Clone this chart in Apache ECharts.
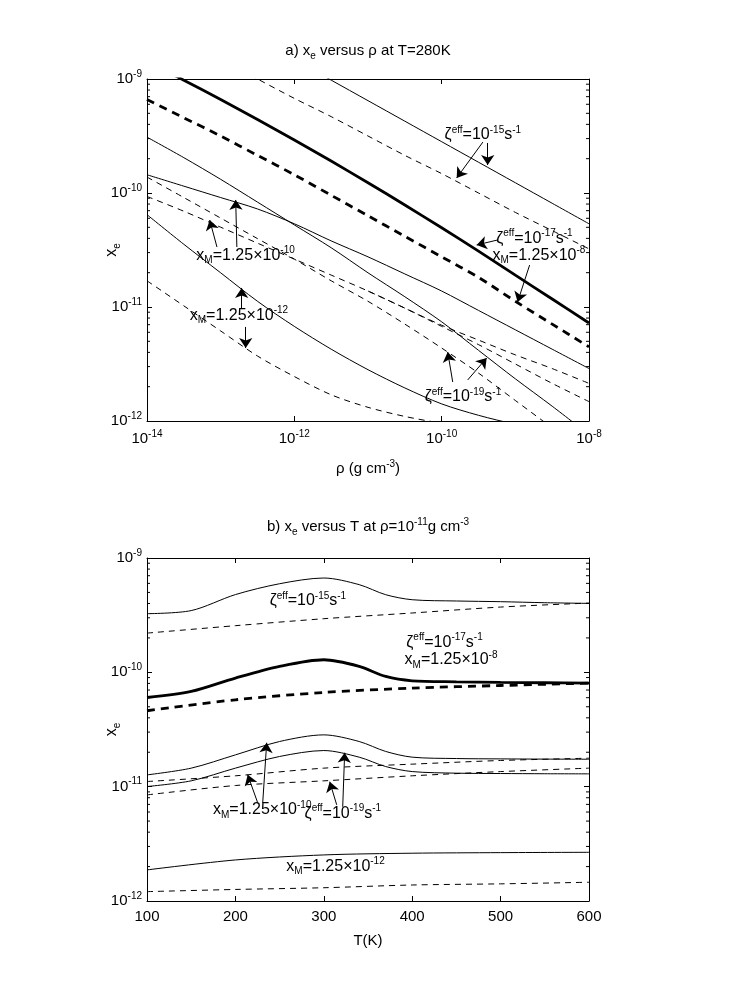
<!DOCTYPE html>
<html>
<head>
<meta charset="utf-8">
<script src="https://cdn.jsdelivr.net/npm/echarts@6/dist/echarts.min.js"></script>
<style>
  html, body { margin: 0; background: #fff; }
  #chart { width: 736px; height: 981px; }
</style>
</head>
<body>
<div id="chart"></div>
<script>
var FONT = '"Liberation Sans", Arial, sans-serif';

// ---- panel a: x_e versus rho at T=280K (log10 values)
var rhoExp = [-14, -13.5, -13, -12.5, -12, -11.5, -11, -10.5, -10, -9.5, -9, -8.5, -8];
var aZeta15Solid  = [null, null, null, null, -8.83, -9.01, -9.19, -9.37, -9.55, -9.73, -9.91, -10.09, -10.27];
var aZeta15Dashed = [null, null, -8.83, -9.0, -9.17, -9.33, -9.50, -9.67, -9.83, -10.0, -10.17, -10.33, -10.49];
var aRefSolid     = [-8.845, -9.01, -9.18, -9.355, -9.535, -9.72, -9.91, -10.105, -10.305, -10.51, -10.72, -10.93, -11.14];
var aRefDashed    = [-9.18, -9.34, -9.50, -9.67, -9.84, -10.02, -10.20, -10.38, -10.56, -10.74, -10.95, -11.15, -11.35];
var aXm10Solid    = [-9.84, -9.94, -10.04, -10.14, -10.27, -10.42, -10.56, -10.71, -10.86, -11.03, -11.20, -11.37, -11.54];
var aXm10Dashed   = [-10.03, -10.16, -10.30, -10.44, -10.58, -10.72, -10.86, -11.01, -11.16, -11.29, -11.42, -11.54, -11.67];
var aSplitDashed  = [null, null, null, null, null, null, -10.86, -11.01, -11.17, -11.33, -11.50, -11.67, -11.83];
var aZeta19Solid  = [-9.51, -9.69, -9.88, -10.08, -10.28, -10.48, -10.70, -10.91, -11.13, -11.38, -11.63, -11.87, -12.12];
var aZeta19Dashed = [-9.86, -10.04, -10.22, -10.40, -10.58, -10.77, -10.95, -11.15, -11.36, -11.58, -11.82, -12.06, -12.3];
var aXm12Solid    = [-10.19, -10.45, -10.70, -10.95, -11.17, -11.37, -11.55, -11.71, -11.85, -11.95, -12.03, -12.1, -12.15];
var aXm12Dashed   = [-10.77, -10.99, -11.21, -11.43, -11.61, -11.77, -11.88, -11.96, -12.02, -12.07, -12.1, -12.12, -12.14];

// ---- panel b: x_e versus T at rho=1e-11 (log10 values)
var tempK      = [100, 150, 200, 250, 300, 340, 370, 400, 450, 500, 550, 600];
var tempCoarse = [100, 200, 300, 400, 500, 600];
var bZeta15Solid  = [-9.487, -9.46, -9.32, -9.225, -9.175, -9.233, -9.321, -9.365, -9.376, -9.382, -9.391, -9.397];
var bRefSolid     = [-10.22, -10.167, -10.05, -9.948, -9.89, -9.948, -10.036, -10.074, -10.083, -10.088, -10.091, -10.094];
var bXm10Solid    = [-10.897, -10.838, -10.722, -10.605, -10.547, -10.605, -10.692, -10.742, -10.754, -10.757, -10.759, -10.76];
var bZeta19Solid  = [-10.999, -10.949, -10.838, -10.736, -10.684, -10.742, -10.824, -10.868, -10.882, -10.885, -10.887, -10.888];
var bZeta15Dashed = [-9.657, -9.592, -9.531, -9.481, -9.429, -9.394];
var bRefDashed    = [-10.336, -10.24, -10.176, -10.138, -10.115, -10.094];
var bXm10Dashed   = [-10.955, -10.905, -10.838, -10.803, -10.771, -10.751];
var bZeta19Dashed = [-11.072, -10.99, -10.949, -10.905, -10.868, -10.838];
var bXm12Solid    = [-11.728, -11.641, -11.597, -11.582, -11.577, -11.574];
var bXm12Dashed   = [-11.918, -11.899, -11.884, -11.86, -11.85, -11.836];

// annotation texts: [x, y, text]   arrows: [x1, y1, x2, y2] (data coords)
var aLabels = [
    [-9.96, -9.49, 'ζ{sup|eff}=10{sup|-15}s{sup|-1}'],
    [-9.26, -10.40, 'ζ{sup|eff}=10{sup|-17}s{sup|-1}'],
    [-9.31, -10.55, 'x{sub|M}=1.25×10{sup|-8}'],
    [-13.33, -10.55, 'x{sub|M}=1.25×10{sup|-10}'],
    [-13.42, -11.075, 'x{sub|M}=1.25×10{sup|-12}'],
    [-10.23, -11.79, 'ζ{sup|eff}=10{sup|-19}s{sup|-1}']
];
var aArrows = [
    [-9.44, -9.553, -9.796, -9.868],
    [-9.375, -9.561, -9.375, -9.754],
    [-9.24, -10.412, -9.525, -10.456],
    [-8.806, -10.632, -8.969, -10.956],
    [-13.05, -10.474, -13.149, -10.237],
    [-12.78, -10.474, -12.796, -10.061],
    [-12.715, -11.009, -12.715, -10.833],
    [-12.66, -11.175, -12.66, -11.36],
    [-9.85, -11.658, -9.918, -11.395],
    [-9.647, -11.64, -9.389, -11.447]
];
var bLabels = [
    [238.8, -9.374, 'ζ{sup|eff}=10{sup|-15}s{sup|-1}'],
    [393.3, -9.737, 'ζ{sup|eff}=10{sup|-17}s{sup|-1}'],
    [391.4, -9.89, 'x{sub|M}=1.25×10{sup|-8}'],
    [174.7, -11.204, 'x{sub|M}=1.25×10{sup|-10}'],
    [278.3, -11.235, 'ζ{sup|eff}=10{sup|-19}s{sup|-1}'],
    [257.6, -11.699, 'x{sub|M}=1.25×10{sup|-12}']
];
var bArrows = [
    [230.9, -11.141, 235.4, -10.616],
    [225.2, -11.141, 213.9, -10.896],
    [321.4, -11.176, 323.6, -10.703],
    [314.6, -11.159, 306.7, -10.957]
];

var rich = {
    sup: { fontSize: 10, fontFamily: FONT, color: '#000', padding: [0, 0, 10, 0] },
    sub: { fontSize: 10, fontFamily: FONT, color: '#000', padding: [10, 0, 0, 0] }
};

// minor ticks of the log y axes (2..9 in each decade)
var minorTicks = [];
for (var n = -12; n < -9; n++) {
    for (var k = 2; k <= 9; k++) minorTicks.push(n + Math.log10(k));
}

function pairs(xs, ys) {
    return xs.map(function (x, i) { return [x, ys[i]]; });
}

function curve(axis, xs, ys, width, dashed) {
    return {
        type: 'line', xAxisIndex: axis, yAxisIndex: axis,
        data: pairs(xs, ys), showSymbol: false, smooth: 0.3, clip: true, silent: true,
        lineStyle: { color: '#000', width: width, type: dashed ? (width > 2 ? [8, 6] : [6, 5]) : 'solid' }
    };
}

function minorTickSeries(axis, xMin, xMax) {
    return {
        type: 'custom', xAxisIndex: axis, yAxisIndex: axis, silent: true, clip: false, z: 5,
        data: minorTicks.map(function (v) { return [xMin, v]; }),
        renderItem: function (params, api) {
            var l = api.coord([xMin, api.value(1)]);
            var r = api.coord([xMax, api.value(1)]);
            return {
                type: 'group', children: [
                    { type: 'line', shape: { x1: l[0], y1: l[1], x2: l[0] + 3, y2: l[1] }, style: { stroke: '#000', lineWidth: 1 } },
                    { type: 'line', shape: { x1: r[0] - 3, y1: r[1], x2: r[0], y2: r[1] }, style: { stroke: '#000', lineWidth: 1 } }
                ]
            };
        }
    };
}

function annotationSeries(axis, labels, arrows) {
    return {
        type: 'scatter', xAxisIndex: axis, yAxisIndex: axis, symbolSize: 0, silent: true, z: 10,
        itemStyle: { color: '#000', opacity: 1 },
        data: labels.map(function (a) { return { value: [a[0], a[1]], label: { formatter: a[2] } }; }),
        label: { show: true, position: 'right', distance: 0, color: '#000', opacity: 1, fontSize: 16, fontFamily: FONT, rich: rich },
        markLine: {
            silent: true, symbol: ['none', 'arrow'], symbolSize: 10, animation: false,
            label: { show: false },
            lineStyle: { color: '#000', width: 1, type: 'solid', opacity: 1 },
            data: arrows.map(function (a) { return [{ coord: [a[0], a[1]] }, { coord: [a[2], a[3]] }]; })
        }
    };
}

var powLabel = function (v) { return '10{sup|' + v + '}'; };
var axisText = { color: '#000', fontSize: 15, fontFamily: FONT, rich: rich };
var tick = { inside: true, length: 5, lineStyle: { color: '#000' } };
var line = { show: true, onZero: false, lineStyle: { color: '#000', width: 1 } };

function xAxes(grid, min, max, interval, fmt, name, gap) {
    return [{
        type: 'value', gridIndex: grid, min: min, max: max, interval: interval, position: 'bottom',
        axisLine: line, axisTick: tick, splitLine: { show: false },
        axisLabel: Object.assign({ formatter: fmt, margin: 8 }, axisText),
        name: name, nameLocation: 'middle', nameGap: gap, nameMoveOverlap: false,
        nameTextStyle: { color: '#000', fontSize: 15, fontFamily: FONT, rich: rich }
    }, {
        type: 'value', gridIndex: grid, min: min, max: max, interval: interval, position: 'top',
        axisLine: line, axisTick: tick, splitLine: { show: false }, axisLabel: { show: false }
    }];
}

function yAxes(grid) {
    return [{
        type: 'value', gridIndex: grid, min: -12, max: -9, interval: 1, position: 'left',
        axisLine: line, axisTick: tick, splitLine: { show: false },
        axisLabel: Object.assign({ formatter: powLabel, margin: 5 }, axisText),
        name: 'x{sub|e}', nameLocation: 'middle', nameGap: 25, nameRotate: 90, nameMoveOverlap: false,
        nameTextStyle: { color: '#000', fontSize: 16, fontFamily: FONT, rich: rich }
    }, {
        type: 'value', gridIndex: grid, min: -12, max: -9, interval: 1, position: 'right',
        axisLine: line, axisTick: tick, splitLine: { show: false }, axisLabel: { show: false }
    }];
}

var chart = echarts.init(document.getElementById('chart'));

var series = [
    curve(0, rhoExp, aZeta15Solid, 1, false),
    curve(0, rhoExp, aZeta15Dashed, 1, true),
    curve(0, rhoExp, aRefSolid, 2.8, false),
    curve(0, rhoExp, aRefDashed, 2.8, true),
    curve(0, rhoExp, aXm10Solid, 1, false),
    curve(0, rhoExp, aXm10Dashed, 1, true),
    curve(0, rhoExp, aSplitDashed, 1, true),
    curve(0, rhoExp, aZeta19Solid, 1, false),
    curve(0, rhoExp, aZeta19Dashed, 1, true),
    curve(0, rhoExp, aXm12Solid, 1, false),
    curve(0, rhoExp, aXm12Dashed, 1, true),
    minorTickSeries(0, -14, -8),
    annotationSeries(0, aLabels, aArrows),

    curve(2, tempK, bZeta15Solid, 1, false),
    curve(2, tempCoarse, bZeta15Dashed, 1, true),
    curve(2, tempK, bRefSolid, 2.8, false),
    curve(2, tempCoarse, bRefDashed, 2.8, true),
    curve(2, tempK, bXm10Solid, 1, false),
    curve(2, tempCoarse, bXm10Dashed, 1, true),
    curve(2, tempK, bZeta19Solid, 1, false),
    curve(2, tempCoarse, bZeta19Dashed, 1, true),
    curve(2, tempCoarse, bXm12Solid, 1, false),
    curve(2, tempCoarse, bXm12Dashed, 1, true),
    minorTickSeries(2, 100, 600),
    annotationSeries(2, bLabels, bArrows)
];

chart.setOption({
    animation: false,
    backgroundColor: '#fff',
    title: [{
        text: 'a) x{sub|e} versus ρ at T=280K', left: 'center', top: 36,
        textStyle: { color: '#000', fontSize: 15, fontWeight: 'normal', fontFamily: FONT, rich: rich }
    }, {
        text: 'b) x{sub|e} versus T at ρ=10{sup|-11}g cm{sup|-3}', left: 'center', top: 512,
        textStyle: { color: '#000', fontSize: 15, fontWeight: 'normal', fontFamily: FONT, rich: rich }
    }],
    grid: [
        { left: 147, top: 79, width: 442, height: 342 },
        { left: 147, top: 558, width: 442, height: 343 }
    ],
    xAxis: xAxes(0, -14, -8, 2, powLabel, 'ρ (g cm{sup|-3})', 38)
        .concat(xAxes(1, 100, 600, 100, null, 'T(K)', 32)),
    yAxis: yAxes(0).concat(yAxes(1)),
    series: series
});
</script>
</body>
</html>
